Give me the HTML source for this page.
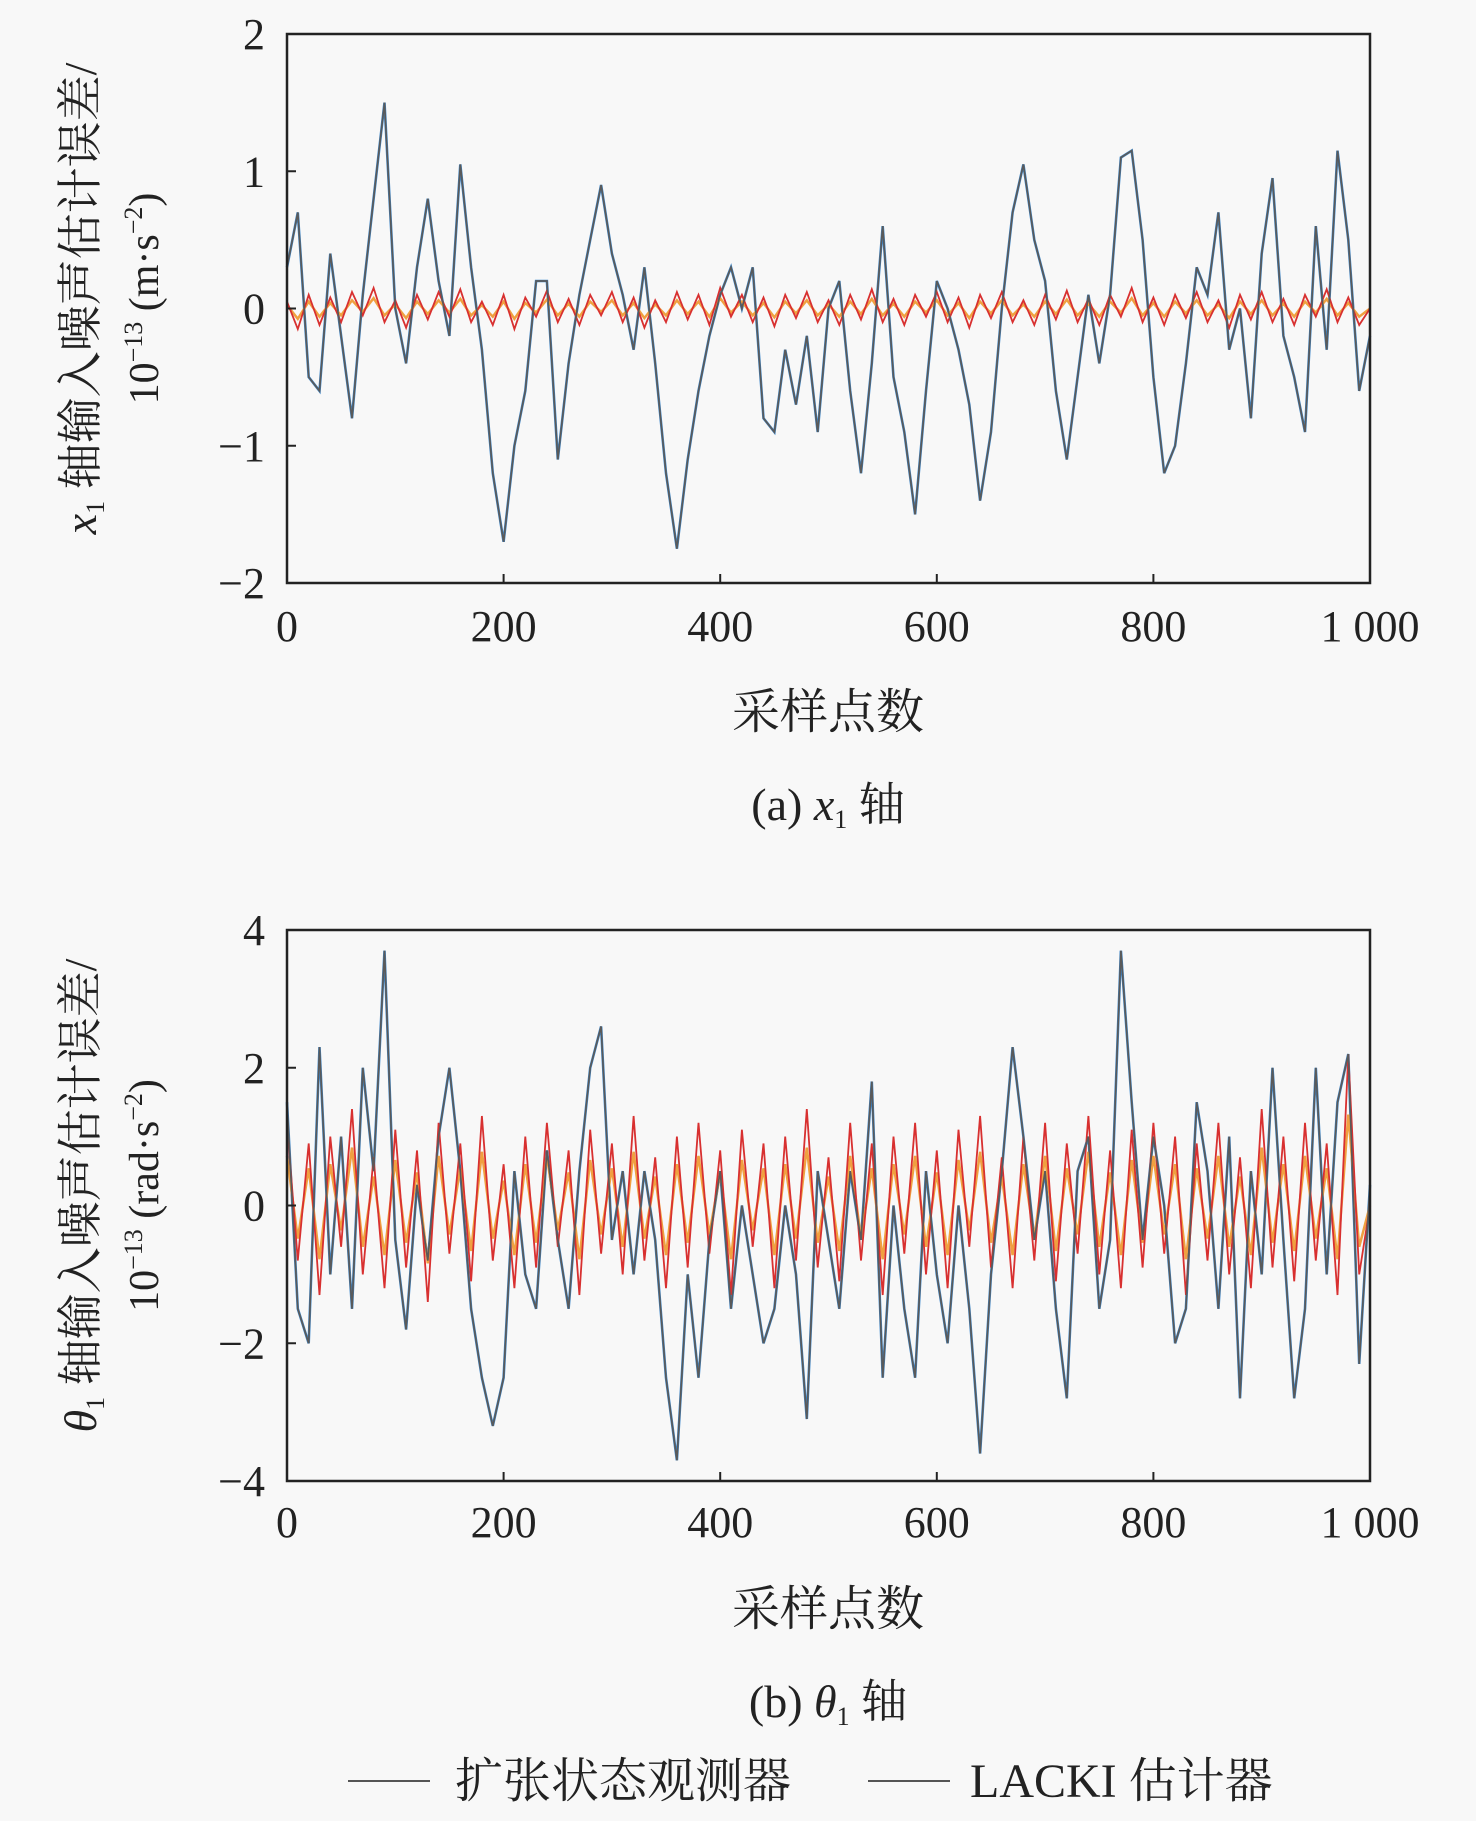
<!DOCTYPE html>
<html><head><meta charset="utf-8">
<style>
html,body{margin:0;padding:0;background:#f8f8f8;}
svg{display:block;}
text{font-family:"Liberation Serif","Noto Serif CJK SC",serif;fill:#222;}
</style></head>
<body>
<svg id="chart" width="1476" height="1821" viewBox="0 0 1476 1821" xmlns="http://www.w3.org/2000/svg"></svg>
<script>
const xTicks=[0,200,400,600,800,1000];
const xTickLabels=["0","200","400","600","800","1 000"];
const aYTicks=[-2,-1,0,1,2];
const aYLabels=["\u22122","\u22121","0","1","2"];
const bYTicks=[-4,-2,0,2,4];
const bYLabels=["\u22124","\u22122","0","2","4"];
const aEso=[0.3,0.7,-0.5,-0.6,0.4,-0.2,-0.8,0.1,0.8,1.5,0.0,-0.4,0.3,0.8,0.2,-0.2,1.05,0.3,-0.3,-1.2,-1.7,-1.0,-0.6,0.2,0.2,-1.1,-0.4,0.1,0.5,0.9,0.4,0.1,-0.3,0.3,-0.4,-1.2,-1.75,-1.1,-0.6,-0.2,0.1,0.3,0.0,0.3,-0.8,-0.9,-0.3,-0.7,-0.2,-0.9,0.0,0.2,-0.6,-1.2,-0.4,0.6,-0.5,-0.9,-1.5,-0.6,0.2,0.0,-0.3,-0.7,-1.4,-0.9,0.0,0.7,1.05,0.5,0.2,-0.6,-1.1,-0.5,0.1,-0.4,0.1,1.1,1.15,0.5,-0.5,-1.2,-1.0,-0.4,0.3,0.1,0.7,-0.3,0.0,-0.8,0.4,0.95,-0.2,-0.5,-0.9,0.6,-0.3,1.15,0.5,-0.6,-0.2];
const aLacki=[0.05,-0.15,0.1,-0.12,0.08,-0.1,0.12,-0.05,0.15,-0.1,0.06,-0.14,0.1,-0.08,0.12,-0.06,0.14,-0.1,0.05,-0.12,0.1,-0.15,0.08,-0.06,0.13,-0.1,0.07,-0.12,0.1,-0.05,0.12,-0.1,0.08,-0.14,0.06,-0.1,0.12,-0.08,0.1,-0.12,0.15,-0.06,0.1,-0.1,0.08,-0.13,0.1,-0.07,0.12,-0.1,0.06,-0.12,0.1,-0.08,0.14,-0.1,0.07,-0.12,0.1,-0.06,0.12,-0.1,0.08,-0.14,0.1,-0.07,0.12,-0.1,0.06,-0.12,0.1,-0.08,0.13,-0.1,0.07,-0.12,0.1,-0.06,0.15,-0.1,0.08,-0.12,0.1,-0.07,0.12,-0.1,0.06,-0.14,0.1,-0.08,0.12,-0.1,0.07,-0.12,0.1,-0.06,0.14,-0.1,0.08,-0.12,0.0];
const bEso=[1.5,-1.5,-2.0,2.3,-1.0,1.0,-1.5,2.0,0.5,3.7,-0.5,-1.8,0.3,-0.8,1.0,2.0,0.5,-1.5,-2.5,-3.2,-2.5,0.5,-1.0,-1.5,0.8,-0.5,-1.5,0.5,2.0,2.6,-0.5,0.5,-1.0,0.5,-0.5,-2.5,-3.7,-1.0,-2.5,-0.5,0.5,-1.5,0.0,-1.0,-2.0,-1.5,0.0,-1.0,-3.1,0.5,-0.5,-1.5,0.5,-0.5,1.8,-2.5,0.0,-1.5,-2.5,0.5,-1.0,-2.0,0.0,-1.5,-3.6,-1.0,0.5,2.3,1.0,-0.5,0.5,-1.5,-2.8,0.5,1.0,-1.5,-0.5,3.7,1.5,-0.5,1.0,0.0,-2.0,-1.5,1.5,0.5,-1.5,1.0,-2.8,0.5,-1.0,2.0,-0.5,-2.8,-1.5,2.0,-1.0,1.5,2.2,-2.3,0.3];
const bLacki=[1.2,-0.8,0.9,-1.3,1.0,-0.6,1.4,-1.0,0.7,-1.2,1.1,-0.9,0.8,-1.4,1.2,-0.7,0.9,-1.1,1.3,-0.8,0.6,-1.2,1.0,-0.9,1.2,-0.6,0.8,-1.3,1.1,-0.7,0.9,-1.0,1.3,-0.8,0.7,-1.2,1.0,-0.9,1.2,-0.7,0.8,-1.3,1.1,-0.6,0.9,-1.2,1.0,-0.8,1.4,-0.9,0.7,-1.1,1.2,-0.8,0.9,-1.3,1.0,-0.7,1.2,-1.0,0.8,-1.2,1.1,-0.6,1.3,-0.9,0.7,-1.2,1.0,-0.8,1.2,-1.1,0.9,-0.7,1.3,-1.0,0.8,-1.2,1.1,-0.9,1.2,-0.7,1.0,-1.3,0.9,-0.8,1.2,-1.0,0.7,-1.2,1.4,-0.9,1.0,-1.1,1.2,-0.8,0.9,-1.3,2.2,-1.0,0.0];

const NS="http://www.w3.org/2000/svg";
const svg=document.getElementById('chart');
function el(tag,attrs,parent){const e=document.createElementNS(NS,tag);for(const k in attrs)e.setAttribute(k,attrs[k]);(parent||svg).appendChild(e);return e;}

function panel(id,top,bottom,ymin,ymax,yt,ytl,eso,lacki,lackiOrange,ylab1,ylab2,caption,capY,titleY,tickY){
  const L=287,R=1370;
  const g=el('g',{});
  
  
  const xs=v=>L+(v-0)/(1000)*(R-L);
  const ys=v=>bottom-(v-ymin)/(ymax-ymin)*(bottom-top);
  const pts=arr=>arr.map((v,i)=>xs(i*10).toFixed(1)+','+ys(v).toFixed(1)).join(' ');
  const blue=el('polyline',{points:pts(eso),fill:'none',stroke:'#3a86cc','stroke-width':2.6},g);
  
  
  const orange=el('polyline',{points:pts(lackiOrange),fill:'none',stroke:'#f0a040','stroke-width':2.5},g);
  
  
  const red=el('polyline',{points:pts(lacki),fill:'none',stroke:'#d83030','stroke-width':1.8},g);
  
  
  const gray=el('polyline',{points:pts(eso),fill:'none',stroke:'#5a5a5a','stroke-width':1.7},g);
  
  
  const fr=el('rect',{x:L,y:top,width:R-L,height:bottom-top,fill:'none',stroke:'#222','stroke-width':2.5},g);
  
  
  xTicks.forEach((t,i)=>{
    el('line',{x1:xs(t),x2:xs(t),y1:bottom,y2:bottom-9,stroke:'#222','stroke-width':2},g);
    const tx=el('text',{x:xs(t),y:tickY,'font-size':44,'text-anchor':'middle'},g);
    tx.textContent=xTickLabels[i];
    
    
  });
  yt.forEach((t,i)=>{
    el('line',{x1:L,x2:L+9,y1:ys(t),y2:ys(t),stroke:'#222','stroke-width':2},g);
    const tx=el('text',{x:265,y:ys(t)+15,'font-size':44,'text-anchor':'end'},g);
    tx.textContent=ytl[i];
    
    
  });
  const xt=el('text',{x:828,y:titleY,'font-size':48,'text-anchor':'middle'},g);
  xt.textContent='采样点数';
  
  
  const cy=(top+bottom)/2-10;
  const y1=el('text',{transform:`translate(96,${cy}) rotate(-90)`,'font-size':46,'text-anchor':'middle'},g);
  y1.innerHTML=ylab1;
  
  
  const y2=el('text',{transform:`translate(158,${cy}) rotate(-90)`,'font-size':42,'text-anchor':'middle'},g);
  y2.innerHTML=ylab2;
  
  
  const cap=el('text',{x:828,y:capY,'font-size':46,'text-anchor':'middle'},g);
  cap.innerHTML=caption;
  
  
}
const aOr=aLacki.map(v=>v*0.5);
const bOr=bLacki.map(v=>v*0.6);
panel('a',34,583,-2,2,aYTicks,aYLabels,aEso,aLacki,aOr,
 '<tspan font-style="italic">x</tspan><tspan font-size="26" dy="8">1</tspan><tspan dy="-8"> 轴输入噪声估计误差/</tspan>',
 '10<tspan font-size="26" dy="-16">−13</tspan><tspan dy="16"> (m·s</tspan><tspan font-size="26" dy="-16">−2</tspan><tspan dy="16">)</tspan>',
 '(a) <tspan font-style="italic">x</tspan><tspan font-size="26" dy="8">1</tspan><tspan dy="-8"> 轴</tspan>',820,728,641);
panel('b',930,1481,-4,4,bYTicks,bYLabels,bEso,bLacki,bOr,
 '<tspan font-style="italic">θ</tspan><tspan font-size="26" dy="8">1</tspan><tspan dy="-8"> 轴输入噪声估计误差/</tspan>',
 '10<tspan font-size="26" dy="-16">−13</tspan><tspan dy="16"> (rad·s</tspan><tspan font-size="26" dy="-16">−2</tspan><tspan dy="16">)</tspan>',
 '(b) <tspan font-style="italic">θ</tspan><tspan font-size="26" dy="8">1</tspan><tspan dy="-8"> 轴</tspan>',1717,1625,1537);
const lg=el('g',{});


el('line',{x1:348,x2:430,y1:1781,y2:1781,stroke:'#555','stroke-width':2},lg);
const l1=el('text',{x:455,y:1797,'font-size':48},lg);
l1.textContent='扩张状态观测器';


el('line',{x1:868,x2:950,y1:1781,y2:1781,stroke:'#555','stroke-width':2},lg);
const l2=el('text',{x:970,y:1797,'font-size':48},lg);
l2.textContent='LACKI 估计器';


</script>
</body></html>
